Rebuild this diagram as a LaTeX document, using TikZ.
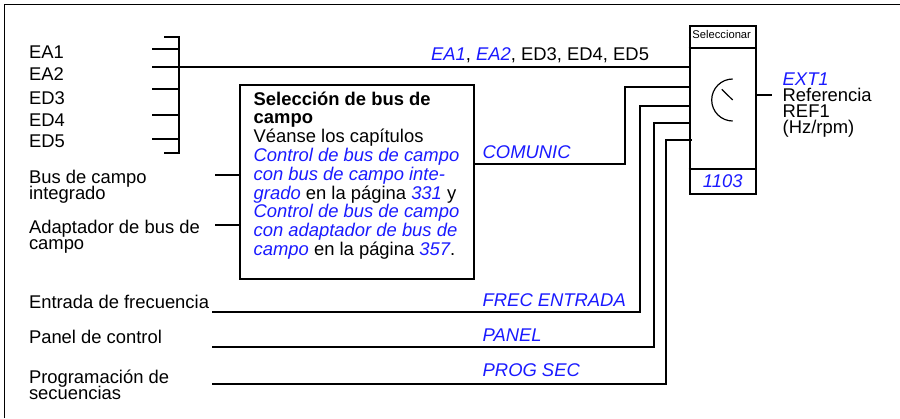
\documentclass[tikz,border=0pt]{standalone}
\usepackage{fontspec}
\setmainfont{Liberation Sans}

\newcommand{\blueit}[1]{\textcolor{refBlue}{\itshape #1}}

\begin{document}
\begin{tikzpicture}[x=0.5pt, y=-0.5pt, line width=1pt,
    every node/.style={inner sep=0pt, font={\fontsize{9.2}{9.4}\selectfont}},
    lbl/.style={anchor=base west},
    twoline/.style={anchor=north west, align=left, font={\fontsize{9.2}{7.9}\selectfont\lineskiplimit=-\maxdimen}}]

    \definecolor{refBlue}{HTML}{1A1AFF}

    % Fix the page size (units are pixels of the reference, y pointing down)
    \useasboundingbox (0,0) rectangle (900,418);

    % Draw frame (only top and left edges are visible)
    \draw[line width=0.5pt] (4,418) -- (4,4) -- (900,4);

    % Analogue and digital inputs with their bracket
    \draw (164,37) -- (179,37) -- (179,153) -- (164,153);
    \foreach \name/\ty/\by in {EA1/49/58.5, EA2/67/80, ED3/89/104, ED4/115/126, ED5/139/147} {
        \node[lbl] (in\name) at (28,\by) {\name};
        \coordinate (tick\name) at (152,\ty);
        \draw (tick\name) -- (179,\ty);
    }
    \coordinate (busJoin) at (179,67);

    % Draw the selector block
    \node[draw, anchor=north west, minimum width=33.15pt, minimum height=84pt] (sel) at (688.7,25) {};
    \draw (sel.west |- 0,47.7) -- (sel.east |- 0,47.7);
    \draw (sel.west |- 0,169) -- (sel.east |- 0,169);
    \node[anchor=base, font={\fontsize{5.6}{6}\selectfont}] (selTitle) at (721.7,38.3) {Seleccionar};
    \node[anchor=base] (selParam) at (722.7,187.7) {\blueit{1103}};

    % Dial symbol
    \coordinate (dial) at (732.7,100);
    \draw[line width=0.6pt] (732.7,79) arc[start angle=270, end angle=90, radius=21];
    \draw[line width=0.6pt] (dial) -- ++(-11,-10.7);

    % Fieldbus selection box
    \node[draw, anchor=north west, minimum width=117pt, minimum height=97pt] (fbBox) at (239,84) {};
    \node[anchor=north west, align=left] (fbText) at (252.7,90.7)
        {\textbf{Selección de bus de}\\
         \textbf{campo}\\
         Véanse los capítulos\\
         \blueit{Control de bus de campo}\\
         \blueit{con bus de campo inte-}\\
         \blueit{grado} en la página \blueit{331} y\\
         \blueit{Control de bus de campo}\\
         \blueit{con adaptador de bus de}\\
         \blueit{campo} en la página \blueit{357}.};

    % Fieldbus sources
    \node[twoline] (fbInt) at (28,169) {Bus de campo\\integrado};
    \node[twoline] (fbAdapt) at (28,219) {Adaptador de bus de\\campo};
    \coordinate (fbIntEnd) at (215,175);
    \coordinate (fbAdaptEnd) at (215,225);
    \draw (fbIntEnd) -- (fbBox.west |- fbIntEnd);
    \draw (fbAdaptEnd) -- (fbBox.west |- fbAdaptEnd);

    % Other sources
    \node[lbl] (srcFreq) at (28,308.3) {Entrada de frecuencia};
    \node[lbl] (srcPanel) at (28,343.3) {Panel de control};
    \node[twoline] (srcSeq) at (28,369.3) {Programación de\\secuencias};
    \coordinate (freqEnd) at (212,311.7);
    \coordinate (panelEnd) at (212,347.3);
    \coordinate (seqEnd) at (212,384.3);

    % Signals into the selector
    \draw (busJoin) -- (busJoin -| sel.west);
    \node[anchor=base east] (busList) at (650,60.7) {\blueit{EA1}, \blueit{EA2}, ED3, ED4, ED5};

    \draw (fbBox.east |- 0,164.3) -| (625,87.3) -- (sel.west |- 0,87.3);
    \node[lbl] (lblCom) at (481.7,158.3) {\blueit{COMUNIC}};

    \draw (freqEnd) -| (640,105.7) -- (sel.west |- 0,105.7);
    \node[lbl] (lblFreq) at (481.7,306) {\blueit{FREC ENTRADA}};

    \draw (panelEnd) -| (654,122.7) -- (sel.west |- 0,122.7);
    \node[lbl] (lblPanel) at (481.7,341) {\blueit{PANEL}};

    \draw (seqEnd) -| (666,140) -- (691.7,140);
    \node[lbl] (lblSeq) at (481.7,376.7) {\blueit{PROG SEC}};

    % Output reference
    \coordinate (outEnd) at (771.7,95);
    \draw (sel.east |- outEnd) -- (outEnd);
    \node[anchor=north west, align=left, font={\fontsize{9.2}{8}\selectfont\lineskiplimit=-\maxdimen}] (refOut) at (781.7,71.7)
        {\blueit{EXT1}\\Referencia\\REF1\\(Hz/rpm)};

\end{tikzpicture}
\end{document}
